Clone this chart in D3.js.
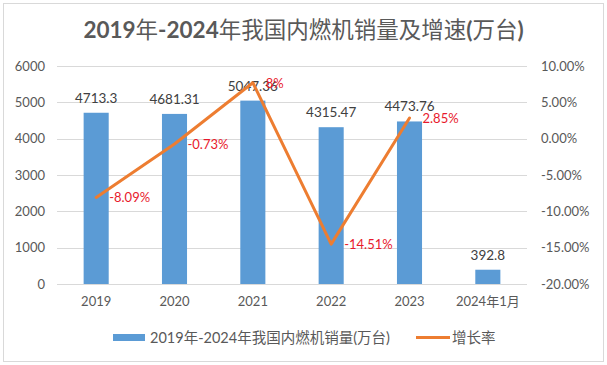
<!DOCTYPE html>
<html>
<head>
<meta charset="utf-8">
<script src="https://cdn.jsdelivr.net/npm/d3@7"></script>
<style>
  body { margin: 0; background: #fff; }
  svg text { font-family: Lato, "Noto Sans CJK SC", sans-serif; }
</style>
</head>
<body>
<svg id="chart"></svg>
<script>
// data
const years = ['2019', '2020', '2021', '2022', '2023', '2024年1月'];
const sales = [4713.3, 4681.31, 5047.36, 4315.47, 4473.76, 392.8];
const salesLabels = ['4713.3', '4681.31', '5047.36', '4315.47', '4473.76', '392.8'];
const rateYears = ['2019', '2020', '2021', '2022', '2023'];
const rates = [-8.09, -0.73, 7.7, -14.51, 2.85];
const rateLabels = ['-8.09%', '-0.73%', '8%', '-14.51%', '2.85%'];
const leftTicks = [0, 1000, 2000, 3000, 4000, 5000, 6000];
const rightTicks = [-20, -15, -10, -5, 0, 5, 10];

const width = 607, height = 365;
const margin = { top: 66, right: 80, bottom: 81, left: 57 };
const plotW = width - margin.left - margin.right;
const plotH = height - margin.top - margin.bottom;

const svg = d3.select('#chart')
    .attr('width', width)
    .attr('height', height);

// outer frame
svg.append('rect')
    .attr('x', 3.5).attr('y', 3.5)
    .attr('width', width - 7).attr('height', height - 7)
    .attr('fill', '#fff')
    .attr('stroke', '#d9d9d9');

// title: latin parts bold, CJK parts regular (as in the reference)
const titleText = '2019年-2024年我国内燃机销量及增速(万台)';
const title = svg.append('text')
    .attr('x', width / 2)
    .attr('y', 38)
    .attr('text-anchor', 'middle')
    .style('font-size', '22.5px')
    .attr('fill', '#595959');
title.selectAll('tspan')
  .data(titleText.match(/[\u4e00-\u9fff]+|[^\u4e00-\u9fff]+/g))
  .join('tspan')
    .style('font-weight', d => /[\u4e00-\u9fff]/.test(d) ? 'normal' : 'bold')
    .text(d => d);

const chart = svg.append('g')
    .attr('transform', `translate(${margin.left},${margin.top})`);

const x = d3.scaleBand().domain(years).range([0, plotW]).paddingInner(0.68).paddingOuter(0.34);
const xc = d => x(d) + x.bandwidth() / 2;
const y = d3.scaleLinear().domain([0, 6000]).range([plotH, 0]);
const y2 = d3.scaleLinear().domain([-20, 10]).range([plotH, 0]);

// gridlines
chart.append('g')
  .selectAll('line')
  .data(leftTicks)
  .join('line')
    .attr('x1', 0).attr('x2', plotW)
    .attr('y1', d => Math.round(y(d)) + 0.5)
    .attr('y2', d => Math.round(y(d)) + 0.5)
    .attr('stroke', '#d9d9d9');

// left axis
const leftAxis = chart.append('g')
    .attr('transform', 'translate(-8,0)')
    .call(d3.axisLeft(y).tickValues(leftTicks).tickSize(0).tickPadding(4).tickFormat(d3.format('d')));
leftAxis.select('.domain').remove();
leftAxis.selectAll('text').style('font-size', '13px').attr('fill', '#595959');

// right axis
const rightAxis = chart.append('g')
    .attr('transform', `translate(${plotW + 10},0)`)
    .call(d3.axisRight(y2).tickValues(rightTicks).tickSize(0).tickPadding(4)
      .tickFormat(d => d.toFixed(2) + '%'));
rightAxis.select('.domain').remove();
rightAxis.selectAll('text').style('font-size', '13px').attr('fill', '#595959');

// bottom axis
const bottomAxis = chart.append('g')
    .attr('transform', `translate(0,${plotH})`)
    .call(d3.axisBottom(x).tickSize(0).tickPadding(13));
bottomAxis.select('.domain').remove();
bottomAxis.selectAll('text').style('font-size', '13px').attr('fill', '#595959');

// bars
chart.selectAll('.bar')
  .data(years)
  .join('rect')
    .attr('class', 'bar')
    .attr('x', d => x(d))
    .attr('y', (d, i) => y(sales[i]))
    .attr('width', x.bandwidth())
    .attr('height', (d, i) => plotH - y(sales[i]))
    .attr('fill', '#5b9bd5');

chart.selectAll('.bar-label')
  .data(years)
  .join('text')
    .attr('class', 'bar-label')
    .attr('x', d => xc(d))
    .attr('y', (d, i) => y(sales[i]) - 10)
    .attr('text-anchor', 'middle')
    .style('font-size', '13.5px')
    .attr('fill', '#404040')
    .text((d, i) => salesLabels[i]);

// growth rate line
const line = d3.line()
    .x(d => xc(d[0]))
    .y(d => y2(d[1]));

chart.append('path')
    .datum(rateYears.map((d, i) => [d, rates[i]]))
    .attr('d', line)
    .attr('fill', 'none')
    .attr('stroke', '#ed7d31')
    .attr('stroke-width', 3)
    .attr('stroke-linejoin', 'round')
    .attr('stroke-linecap', 'round');

chart.selectAll('.rate-label')
  .data(rateYears)
  .join('text')
    .attr('class', 'rate-label')
    .attr('x', d => xc(d) + 13)
    .attr('y', (d, i) => y2(rates[i]) + 5)
    .style('font-size', '13px')
    .attr('fill', '#e8192c')
    .text((d, i) => rateLabels[i]);

// legend
const legend = svg.append('g').attr('transform', 'translate(0,337.5)');
legend.append('rect')
    .attr('x', 113).attr('y', -3.5)
    .attr('width', 32).attr('height', 7)
    .attr('fill', '#5b9bd5');
legend.append('text')
    .attr('x', 150).attr('y', 5)
    .style('font-size', '14.5px')
    .attr('fill', '#595959')
    .text('2019年-2024年我国内燃机销量(万台)');
legend.append('line')
    .attr('x1', 416).attr('x2', 450)
    .attr('y1', 0).attr('y2', 0)
    .attr('stroke', '#ed7d31')
    .attr('stroke-width', 3);
legend.append('text')
    .attr('x', 452).attr('y', 5)
    .style('font-size', '14.5px')
    .attr('fill', '#595959')
    .text('增长率');
</script>
</body>
</html>
